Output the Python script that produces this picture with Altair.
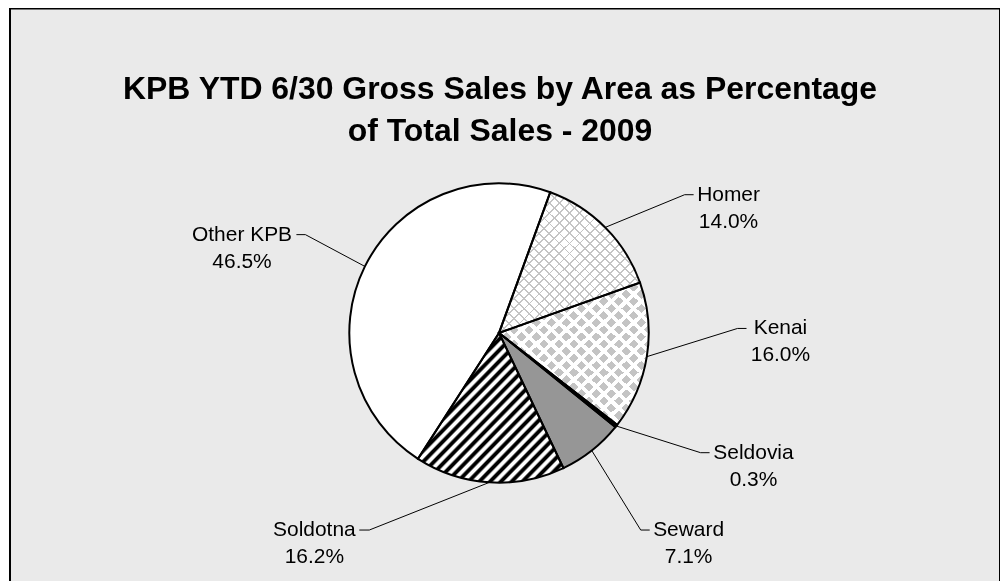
import math
import altair as alt
import pandas as pd

# ---------------- data ----------------
areas = ["Homer", "Kenai", "Seldovia", "Seward", "Soldotna", "Other KPB"]
shares = [14.0, 16.0, 0.3, 7.1, 16.2, 46.5]
pct_text = ["14.0%", "16.0%", "0.3%", "7.1%", "16.2%", "46.5%"]
title_lines = ["KPB YTD 6/30 Gross Sales by Area as Percentage",
               "of Total Sales - 2009"]

# ---------------- styles / layout ----------------
slice_fills = ["#ffffff", "#ffffff", "#000000", "#969696", "#ffffff", "#ffffff"]
# label block centres and leader-line elbows (relative to pie centre, y up)
label_x = [230, 282, 255, 190, -185, -257.5]
label_y = [138.5, 4.5, -120, -197.5, -197.5, 98.5]
elbow_x = [186, 239, 202, 142, -130, -194]
end_x = [195, 248, 211, 151, -140, -203]

R = 150
START_DEG = 20.0
W, H = 992, 590
X_DOM = [-490, 502]
Y_DOM = [-265, 325]
FONT = "Liberation Sans"

total = sum(shares)
rows = []
acc = 0.0
for a, s, p in zip(areas, shares, pct_text):
    rows.append({"area": a, "share": s, "pct": p, "start": acc, "end": acc + s})
    acc += s
pie = pd.DataFrame(rows)


def ang(v):
    return math.radians(START_DEG) + v / total * 2 * math.pi


xs = alt.Scale(domain=X_DOM, nice=False, zero=False)
ys = alt.Scale(domain=Y_DOM, nice=False, zero=False)
ts = alt.Scale(domain=[0, total],
               range=[math.radians(START_DEG), math.radians(START_DEG) + 2 * math.pi])


def arc_layer(data, **mark):
    return alt.Chart(data).mark_arc(radius=R, **mark).encode(
        theta=alt.Theta("start:Q", scale=ts),
        theta2="end:Q",
        x=alt.XDatum(0, type="quantitative", scale=xs, axis=None),
        y=alt.YDatum(0, type="quantitative", scale=ys, axis=None),
    )


def slice_bbox(name):
    r = pie[pie.area == name].iloc[0]
    a0, a1 = ang(r.start), ang(r.end)
    pts = [(0.0, 0.0), (R * math.sin(a0), -R * math.cos(a0)),
           (R * math.sin(a1), -R * math.cos(a1))]
    for k in range(-4, 12):
        c = k * math.pi / 2
        if a0 < c < a1:
            pts.append((R * math.sin(c), -R * math.cos(c)))
    xv = [p[0] for p in pts]
    yv = [p[1] for p in pts]
    return max(xv) - min(xv), max(yv) - min(yv)


def stripe_fill(name, period, pattern, direction):
    w, h = slice_bbox(name)
    n = max(1, round(2 / (period * math.sqrt(1 / w ** 2 + 1 / h ** 2))))
    stops = []
    for k in range(n):
        for f, c in pattern:
            stops.append({"offset": min(1.0, (k + f) / n), "color": c})
    if direction == "/":
        x1, y1, x2, y2 = 0, 0, 1, 1
    else:
        x1, y1, x2, y2 = 1, 0, 0, 1
    return {"gradient": "linear", "x1": x1, "y1": y1, "x2": x2, "y2": y2,
            "stops": stops}


CLEAR = "rgba(255,255,255,0)"
hatch = [(0.0, "#c4c4c4"), (0.19, "#c4c4c4"), (0.19, CLEAR), (1.0, CLEAR)]
dia = [(0.0, "#c4c4c4"), (0.64, "#c4c4c4"), (0.64, "#ffffff"), (1.0, "#ffffff")]
soft = [(0.0, "#000000"), (0.25, "#000000"), (0.45, "#ffffff"),
        (0.75, "#ffffff"), (0.95, "#000000"), (1.0, "#000000")]

base = arc_layer(pie, stroke=None).encode(
    color=alt.Color("area:N", scale=alt.Scale(domain=areas, range=slice_fills),
                    legend=None)
)
homer = pie[pie.area == "Homer"]
kenai = pie[pie.area == "Kenai"]
soldotna = pie[pie.area == "Soldotna"]

homer_a = arc_layer(homer, fill=stripe_fill("Homer", 7.2, hatch, "/"))
homer_b = arc_layer(homer, fill=stripe_fill("Homer", 7.2, hatch, "\\"))
kenai_a = arc_layer(kenai, fill=stripe_fill("Kenai", 10.5, dia, "/"))
kenai_b = arc_layer(kenai, fill=stripe_fill("Kenai", 10.5, dia, "\\"), blend="lighten")
sold_a = arc_layer(soldotna, fill=stripe_fill("Soldotna", 7.8, soft, "/"))
outline = arc_layer(pie, fillOpacity=0, stroke="black", strokeWidth=2,
                    strokeJoin="miter")

# leader lines
lrows = []
for i, r in pie.iterrows():
    mid = ang((r.start + r.end) / 2)
    lrows.append({"area": r.area, "seq": 0, "x": R * math.sin(mid), "y": R * math.cos(mid)})
    lrows.append({"area": r.area, "seq": 1, "x": elbow_x[i], "y": label_y[i]})
    lrows.append({"area": r.area, "seq": 2, "x": end_x[i], "y": label_y[i]})
leaders = alt.Chart(pd.DataFrame(lrows)).mark_line(color="black", strokeWidth=1).encode(
    x=alt.X("x:Q", scale=xs, axis=None),
    y=alt.Y("y:Q", scale=ys, axis=None),
    detail="area:N",
    order="seq:Q",
)

lab = pd.DataFrame({"x": label_x, "y": label_y,
                    "text": [a + "\n" + p for a, p in zip(areas, pct_text)]})
labels = alt.Chart(lab).mark_text(font=FONT, fontSize=21, lineHeight=27,
                                  align="center", baseline="middle",
                                  lineBreak="\n", color="black").encode(
    x=alt.X("x:Q", scale=xs, axis=None),
    y=alt.Y("y:Q", scale=ys, axis=None),
    text="text:N",
)

chart = alt.layer(base, homer_a, homer_b, kenai_a, kenai_b, sold_a, outline,
                  leaders, labels).properties(
    width=W, height=H,
    padding={"left": 2, "top": 0, "right": 0, "bottom": 0},
    background="white",
    title=alt.TitleParams(text=title_lines, font=FONT, fontSize=32,
                          fontWeight="bold", lineHeight=42, anchor="middle",
                          offset=-140, color="black", dx=-5),
).configure_view(fill="#eaeaea", stroke="black", strokeWidth=2)

chart.save("out.html", embed_options={"renderer": "svg", "actions": False})
